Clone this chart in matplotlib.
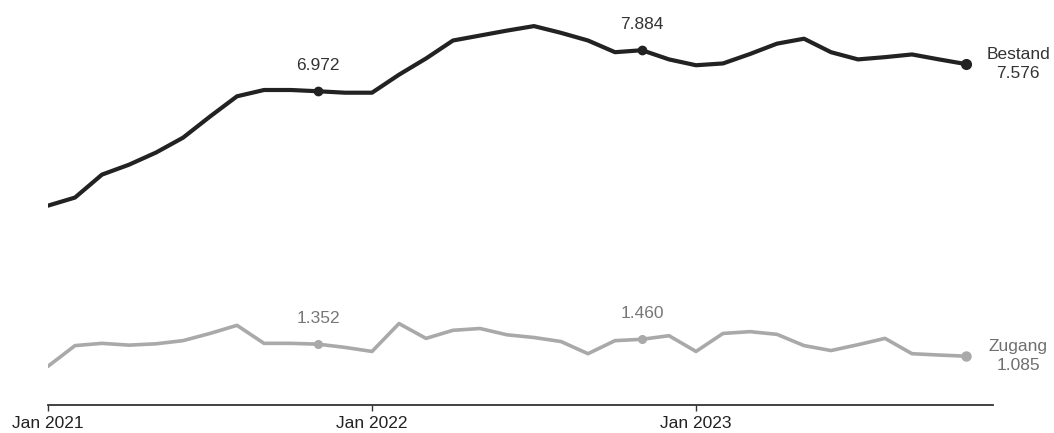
import matplotlib
matplotlib.use("Agg")
import matplotlib.pyplot as plt

plt.rcParams['font.family'] = ['Liberation Sans', 'DejaVu Sans']

# Monthly data, Jan 2021 - Nov 2023 (values in thousands)
months = list(range(35))
bestand = [4.43, 4.61, 5.12, 5.34, 5.61, 5.94, 6.41, 6.86, 7.00, 7.00, 6.972, 6.94,
           6.94, 7.34, 7.70, 8.10, 8.21, 8.32, 8.42, 8.27, 8.10, 7.84, 7.884, 7.68,
           7.55, 7.59, 7.80, 8.03, 8.14, 7.84, 7.68, 7.73, 7.79, 7.68, 7.576]
zugang = [0.86, 1.32, 1.37, 1.33, 1.36, 1.43, 1.59, 1.77, 1.37, 1.37, 1.352, 1.28,
          1.19, 1.81, 1.48, 1.66, 1.70, 1.56, 1.50, 1.41, 1.14, 1.43, 1.460, 1.54,
          1.19, 1.59, 1.63, 1.57, 1.32, 1.21, 1.34, 1.48, 1.14, 1.11, 1.085]
series_names = ["Bestand", "Zugang"]
tick_positions = [0, 12, 24]
tick_labels = ["Jan 2021", "Jan 2022", "Jan 2023"]
highlight_idx = [10, 22]


def fmt(v):
    return f"{v:.3f}"


W, H = 1054, 433
fig = plt.figure(figsize=(W / 100, H / 100), dpi=100)
ax = fig.add_axes([48 / W, 28 / H, (993 - 48) / W, (405 - 20) / H])

styles = [
    dict(color="#222222", lw=3.0, text="#333333", label_text="#333333", ms=6, ms_end=7),
    dict(color="#a9a9a9", lw=2.6, text="#777777", label_text="#6f6f6f", ms=5.5, ms_end=6.5),
]

for name, vals, st in zip(series_names, [bestand, zugang], styles):
    ax.plot(months, vals, color=st["color"], lw=st["lw"], solid_joinstyle="round",
            solid_capstyle="round", zorder=3)
    for i in highlight_idx:
        ax.plot(months[i], vals[i], "o", color=st["color"], ms=st["ms"], zorder=4)
        ax.annotate(fmt(vals[i]), (months[i], vals[i]), xytext=(0, 26),
                    textcoords="offset pixels", ha="center", va="center",
                    fontsize=12.5, color=st["text"])
    ax.plot(months[-1], vals[-1], "o", color=st["color"], ms=st["ms_end"], zorder=4)
    ax.annotate(f"{name}\n{fmt(vals[-1])}", (months[-1], vals[-1]), xytext=(52, 0),
                textcoords="offset pixels", ha="center", va="center",
                multialignment="center", fontsize=12.5, color=st["label_text"],
                linespacing=1.35)

ax.set_xlim(0, 35)
ax.set_ylim(0, 385 / 45)
for s in ["top", "right", "left"]:
    ax.spines[s].set_visible(False)
ax.spines["bottom"].set_color("#333333")
ax.spines["bottom"].set_linewidth(1.3)
ax.set_yticks([])
ax.set_xticks(tick_positions)
ax.set_xticklabels(tick_labels, fontsize=12.5, color="#222222")
ax.tick_params(axis="x", length=4, width=1, color="#333333", pad=4)

fig.savefig("out.png", dpi=100, facecolor="white")
